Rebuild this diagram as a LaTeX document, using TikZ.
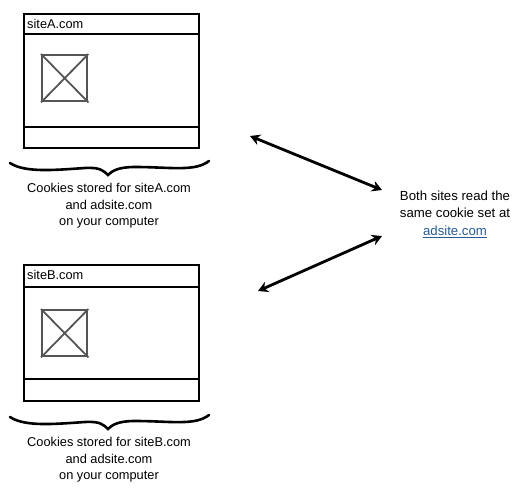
\documentclass[tikz,border=0pt]{standalone}
\usepackage{fontspec}
\setmainfont{Liberation Sans}
\usetikzlibrary{arrows.meta}
\definecolor{linkblue}{RGB}{40,90,150}
\definecolor{imggray}{RGB}{85,85,85}
\begin{document}
\begin{tikzpicture}[x=1pt,y=-1pt,
  win/.style={draw=black,line width=1.8pt,minimum width=175pt,anchor=north west,inner sep=0pt},
  bar/.style={draw=black,line width=1.8pt},
  img/.style={draw=imggray,line width=2.4pt,minimum width=45pt,minimum height=46pt,anchor=north west,inner sep=0pt},
  brace/.style={line width=2.6pt,line cap=round},
  caption/.style={align=center,font=\fontsize{12.8}{16.5}\selectfont},
  title/.style={anchor=west,font=\fontsize{12.8}{14}\selectfont,inner sep=0pt},
  dbl/.style={line width=2.8pt,{Stealth[length=10pt,width=11pt]}-{Stealth[length=10pt,width=11pt]}}]
\useasboundingbox (0,0) rectangle (522,492);
% window A
\node[win,minimum height=134pt] (winA) at (23,13) {};
\draw[bar] (23,34) -- (198,34);
\draw[bar] (23,127) -- (198,127);
\node[title] (tA) at (27,23.5) {siteA.com};
\node[img] (imgA) at (41,54) {};
\draw[imggray,line width=1.8pt] (imgA.north west) -- (imgA.south east) (imgA.north east) -- (imgA.south west);
\draw[brace] (10,163) .. controls (25,173) and (55,170) .. (85,168) .. controls (100,167) and (104,171) .. (108,175) .. controls (112,171) and (118,167) .. (135,167) .. controls (170,167) and (195,172) .. (209,161);
\node[caption] (capA) at (109,206) {Cookies stored for siteA.com\\and adsite.com\\on your computer};
% window B
\node[win,minimum height=136pt] (winB) at (23,264) {};
\draw[bar] (23,287) -- (198,287);
\draw[bar] (23,379) -- (198,379);
\node[title] (tB) at (27,275) {siteB.com};
\node[img] (imgB) at (41,309) {};
\draw[imggray,line width=1.8pt] (imgB.north west) -- (imgB.south east) (imgB.north east) -- (imgB.south west);
\draw[brace] (10,417) .. controls (25,427) and (55,424) .. (85,422) .. controls (100,421) and (104,425) .. (108,429) .. controls (112,425) and (118,421) .. (135,421) .. controls (170,421) and (195,426) .. (209,415);
\node[caption] (capB) at (109,460) {Cookies stored for siteB.com\\and adsite.com\\on your computer};
% right text
\node[caption,font=\fontsize{13.2}{16.5}\selectfont] (info) at (455,204.5) {Both sites read the\\same cookie set at};
\node[font=\fontsize{13.2}{14}\selectfont,text=linkblue,inner sep=0pt] (link) at (455,232) {\underline{adsite.com}};
% arrows
\coordinate (a1) at (250,136);
\coordinate (a2) at (382,190);
\coordinate (b1) at (382,236);
\coordinate (b2) at (258,291);
\draw[dbl] (a1) -- (a2);
\draw[dbl] (b1) -- (b2);
\end{tikzpicture}
\end{document}
